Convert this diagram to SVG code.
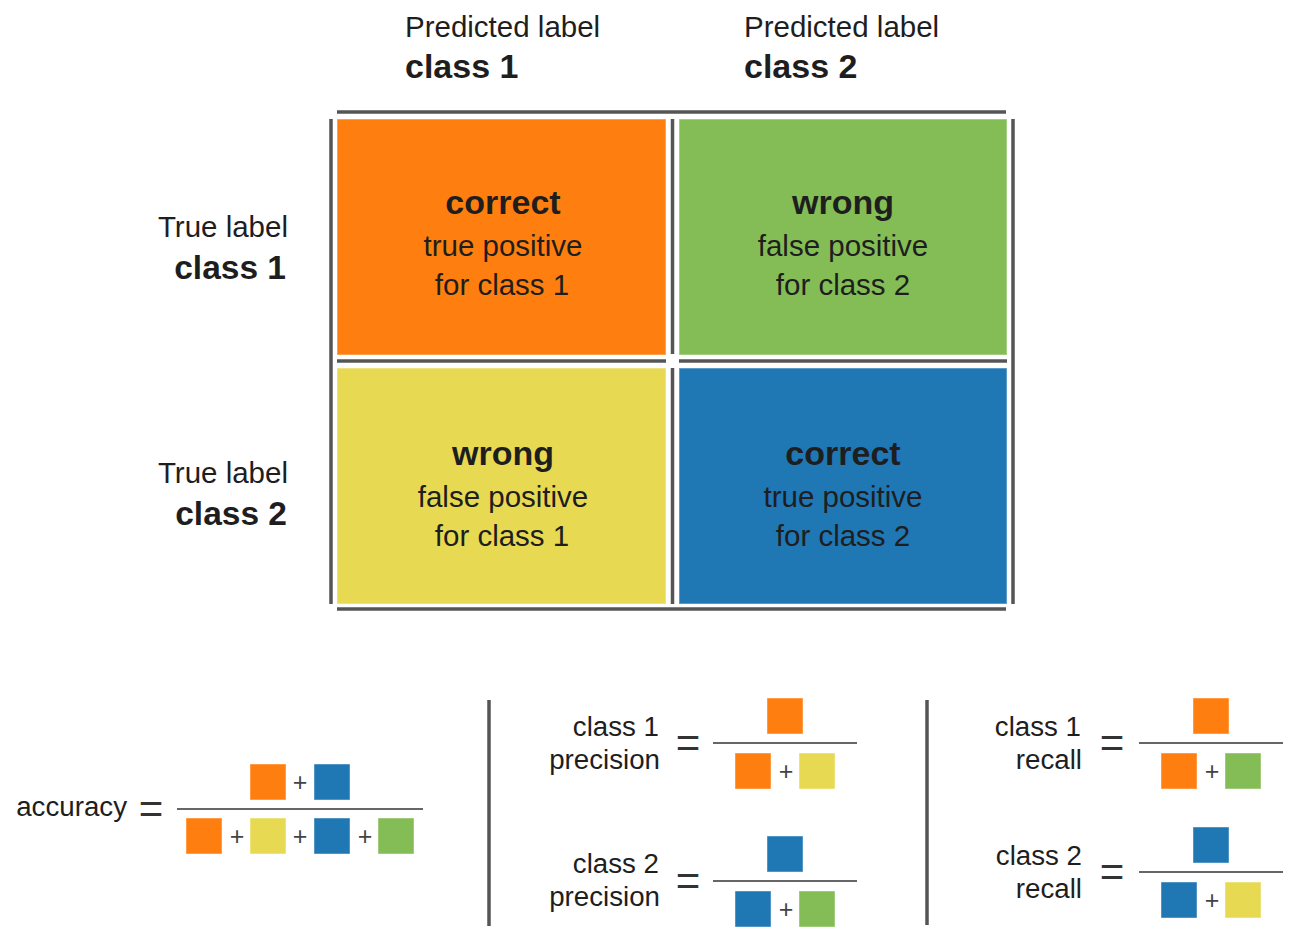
<svg xmlns="http://www.w3.org/2000/svg" width="1293" height="941" viewBox="0 0 1293 941">
<style>
  text { font-family: "Liberation Sans", Arial, Helvetica, sans-serif; fill: #1e1e1e; }
  .lbl { font-size: 29.5px; }
  .lblb { font-size: 34px; font-weight: bold; }
  .lblb2 { font-size: 33.5px; font-weight: bold; }
  .head { font-size: 34px; font-weight: bold; text-anchor: middle; }
  .sub { font-size: 29.5px; text-anchor: middle; }
  .ftxt { font-size: 27.7px; text-anchor: end; }
  .eq { font-size: 42px; text-anchor: middle; fill: #333; }
  .plus { font-size: 25px; text-anchor: middle; fill: #444; }
  .rule { stroke: #555; stroke-width: 3.5; fill: none; }
  .frac { stroke: #666; stroke-width: 2; }
  .cell { stroke: #ffffff; stroke-opacity: 0.35; stroke-width: 1.5; }
  .sq { stroke: #ffffff; stroke-opacity: 0.45; stroke-width: 1; }
  .o { fill: #FE7F0F; }
  .g { fill: #84BD55; }
  .y { fill: #E8D953; }
  .b { fill: #1F77B4; }
</style>

<g id="axis-labels">
  <g id="pred-1">
    <text class="lbl" x="405" y="37">Predicted label</text>
    <text class="lblb" x="405" y="78">class 1</text>
  </g>
  <g id="pred-2">
    <text class="lbl" x="744" y="37">Predicted label</text>
    <text class="lblb" x="744" y="78">class 2</text>
  </g>
  <g id="true-1">
    <text class="lbl" x="288" y="237" text-anchor="end">True label</text>
    <text class="lblb2" x="286" y="279" text-anchor="end">class 1</text>
  </g>
  <g id="true-2">
    <text class="lbl" x="288" y="483" text-anchor="end">True label</text>
    <text class="lblb2" x="287" y="525" text-anchor="end">class 2</text>
  </g>
</g>

<g id="grid-lines">
  <line class="rule" x1="337" y1="112" x2="1006" y2="112"/>
  <line class="rule" x1="337" y1="609" x2="1006" y2="609"/>
  <line class="rule" x1="331" y1="119" x2="331" y2="604"/>
  <line class="rule" x1="1013" y1="119" x2="1013" y2="604"/>
  <line class="rule" x1="672.5" y1="119" x2="672.5" y2="354"/>
  <line class="rule" x1="672.5" y1="368" x2="672.5" y2="604"/>
  <line class="rule" x1="337" y1="361" x2="666" y2="361"/>
  <line class="rule" x1="679" y1="361" x2="1007" y2="361"/>
</g>

<g id="cell-tp1">
  <rect class="cell o" x="337" y="119" width="329" height="236"/>
  <text class="head" x="503" y="214">correct</text>
  <text class="sub" x="503" y="256">true positive</text>
  <text class="sub" x="502" y="295">for class 1</text>
</g>
<g id="cell-fp2">
  <rect class="cell g" x="679" y="119" width="328" height="236"/>
  <text class="head" x="843" y="214">wrong</text>
  <text class="sub" x="843" y="256">false positive</text>
  <text class="sub" x="843" y="295">for class 2</text>
</g>
<g id="cell-fp1">
  <rect class="cell y" x="337" y="368" width="329" height="236"/>
  <text class="head" x="503" y="465">wrong</text>
  <text class="sub" x="503" y="507">false positive</text>
  <text class="sub" x="502" y="546">for class 1</text>
</g>
<g id="cell-tp2">
  <rect class="cell b" x="679" y="368" width="328" height="236"/>
  <text class="head" x="843" y="465">correct</text>
  <text class="sub" x="843" y="507">true positive</text>
  <text class="sub" x="843" y="546">for class 2</text>
</g>

<g id="separators">
  <line class="rule" x1="489" y1="700" x2="489" y2="926"/>
  <line class="rule" x1="927" y1="700" x2="927" y2="925"/>
</g>

<g id="accuracy">
  <text class="ftxt" x="127" y="816" text-anchor="end">accuracy</text>
  <text class="eq" x="151" y="823">=</text>
  <line class="frac" x1="177" y1="809" x2="423" y2="809"/>
  <rect class="sq o" x="250" y="764" width="36" height="36"/>
  <text class="plus" x="300" y="791">+</text>
  <rect class="sq b" x="314" y="764" width="36" height="36"/>
  <rect class="sq o" x="186" y="818" width="36" height="36"/>
  <text class="plus" x="237" y="845">+</text>
  <rect class="sq y" x="250" y="818" width="36" height="36"/>
  <text class="plus" x="300" y="845">+</text>
  <rect class="sq b" x="314" y="818" width="36" height="36"/>
  <text class="plus" x="365" y="845">+</text>
  <rect class="sq g" x="378" y="818" width="36" height="36"/>
</g>

<g id="precision-1">
  <text class="ftxt" x="659" y="736">class 1</text>
  <text class="ftxt" x="660" y="769">precision</text>
  <text class="eq" x="688" y="757">=</text>
  <line class="frac" x1="713" y1="743" x2="857" y2="743"/>
  <rect class="sq o" x="767" y="698" width="36" height="36"/>
  <rect class="sq o" x="735" y="753" width="36" height="36"/>
  <text class="plus" x="786" y="780">+</text>
  <rect class="sq y" x="799" y="753" width="36" height="36"/>
</g>

<g id="precision-2">
  <text class="ftxt" x="659" y="873">class 2</text>
  <text class="ftxt" x="660" y="906">precision</text>
  <text class="eq" x="688" y="895">=</text>
  <line class="frac" x1="713" y1="881" x2="857" y2="881"/>
  <rect class="sq b" x="767" y="836" width="36" height="36"/>
  <rect class="sq b" x="735" y="891" width="36" height="36"/>
  <text class="plus" x="786" y="918">+</text>
  <rect class="sq g" x="799" y="891" width="36" height="36"/>
</g>

<g id="recall-1">
  <text class="ftxt" x="1081" y="736">class 1</text>
  <text class="ftxt" x="1082" y="769">recall</text>
  <text class="eq" x="1112" y="757">=</text>
  <line class="frac" x1="1139" y1="743" x2="1283" y2="743"/>
  <rect class="sq o" x="1193" y="698" width="36" height="36"/>
  <rect class="sq o" x="1161" y="753" width="36" height="36"/>
  <text class="plus" x="1212" y="780">+</text>
  <rect class="sq g" x="1225" y="753" width="36" height="36"/>
</g>

<g id="recall-2">
  <text class="ftxt" x="1082" y="865">class 2</text>
  <text class="ftxt" x="1082" y="898">recall</text>
  <text class="eq" x="1112" y="886">=</text>
  <line class="frac" x1="1139" y1="872" x2="1283" y2="872"/>
  <rect class="sq b" x="1193" y="827" width="36" height="36"/>
  <rect class="sq b" x="1161" y="882" width="36" height="36"/>
  <text class="plus" x="1212" y="909">+</text>
  <rect class="sq y" x="1225" y="882" width="36" height="36"/>
</g>
</svg>
